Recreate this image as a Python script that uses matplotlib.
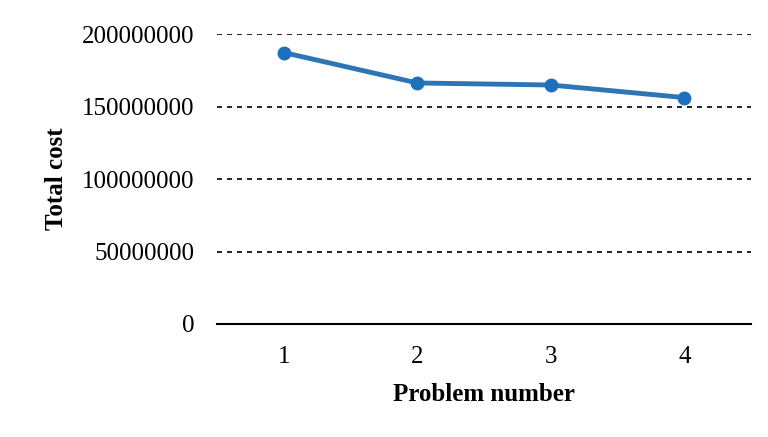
import matplotlib.pyplot as plt

problems = ["1", "2", "3", "4"]
total_cost = [187400000, 166400000, 165000000, 156300000]
yticks = [0, 50000000, 100000000, 150000000, 200000000]

plt.rcParams["font.family"] = ["Liberation Serif", "DejaVu Serif"]

fig = plt.figure(figsize=(7.68, 4.37), dpi=100)
ax = fig.add_axes([0.2826, 0.2586, 0.6954, 0.6629])

x = range(len(problems))
ax.plot(x, total_cost, color="#2E75B6", lw=3.5, marker="o", ms=9,
        markerfacecolor="#1F6FBF", markeredgecolor="#1F6FBF", zorder=3)

ax.set_xlim(-0.5, len(problems) - 0.5)
ax.set_ylim(0, 200000000)
ax.set_xticks(list(x))
ax.set_xticklabels(problems)
ax.set_yticks(yticks)
ax.set_yticklabels([str(v) for v in yticks])
ax.tick_params(length=0, labelsize=18)
ax.tick_params(axis="y", pad=16)
ax.tick_params(axis="x", pad=16)

for v in yticks[1:]:
    ax.axhline(v, color="black", lw=1.2, ls=(0, (3, 3)), zorder=1)

for s in ["top", "right", "left"]:
    ax.spines[s].set_visible(False)
ax.spines["bottom"].set_linewidth(1.5)

ax.set_xlabel("Problem number", fontsize=18, fontweight="bold", labelpad=11)
ax.set_ylabel("Total cost", fontsize=18, fontweight="bold", labelpad=10)

fig.savefig("out.png", dpi=100)
